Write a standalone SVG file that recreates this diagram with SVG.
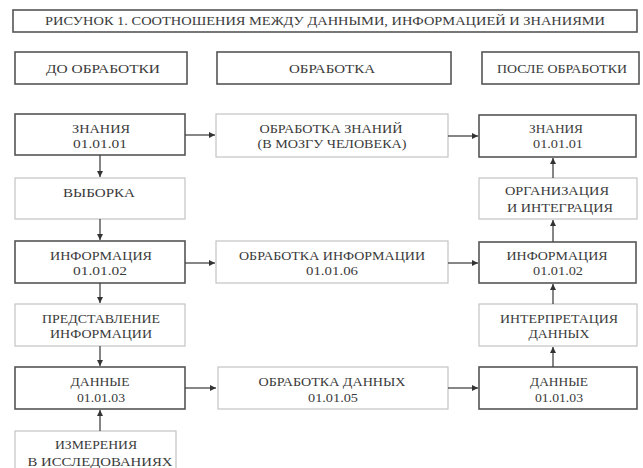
<svg xmlns="http://www.w3.org/2000/svg" width="643" height="468" viewBox="0 0 643 468" font-family="'Liberation Serif', Tinos, 'Times New Roman', 'DejaVu Serif', serif">
<style>
text{font-family:"Liberation Serif",Tinos,"Times New Roman","DejaVu Serif",serif;font-size:13px;fill:#3a3a3a;text-anchor:middle}
.main{fill:#fff;stroke:#555;stroke-width:1.6}
.sub{fill:#fff;stroke:#c4c4c4;stroke-width:1.2}
.conn line{stroke:#444;stroke-width:1.3;marker-end:url(#ah)}
</style>
<defs>
<marker id="ah" viewBox="0 0 10 10" refX="10" refY="5" markerWidth="6" markerHeight="6" markerUnits="userSpaceOnUse" orient="auto">
<path d="M0,0 L10,5 L0,10 Z" fill="#333"/>
</marker>
</defs>
<rect width="643" height="468" fill="#fff"/>
<g id="title"><rect class="main" x="13" y="10" width="624" height="22"/><text x="325" y="25" textLength="560" lengthAdjust="spacingAndGlyphs">РИСУНОК 1. СООТНОШЕНИЯ МЕЖДУ ДАННЫМИ, ИНФОРМАЦИЕЙ И ЗНАНИЯМИ</text></g>
<g id="h-before"><rect class="main" x="15" y="52" width="172" height="32"/><text x="103" y="73" textLength="114" lengthAdjust="spacingAndGlyphs">ДО ОБРАБОТКИ</text></g>
<g id="h-proc"><rect class="main" x="217" y="52" width="234" height="32"/><text x="332" y="73" textLength="86" lengthAdjust="spacingAndGlyphs">ОБРАБОТКА</text></g>
<g id="h-after"><rect class="main" x="482" y="52" width="157" height="32"/><text x="562" y="73" textLength="130" lengthAdjust="spacingAndGlyphs">ПОСЛЕ ОБРАБОТКИ</text></g>

<g id="k-left"><rect class="main" x="15" y="114" width="170" height="41"/><text x="101" y="133" textLength="58" lengthAdjust="spacingAndGlyphs">ЗНАНИЯ</text><text x="100" y="148" textLength="54" lengthAdjust="spacingAndGlyphs">01.01.01</text></g>
<g id="k-proc"><rect class="sub" x="216" y="114" width="232" height="43"/><text x="331" y="133" textLength="143" lengthAdjust="spacingAndGlyphs">ОБРАБОТКА ЗНАНИЙ</text><text x="332" y="148" textLength="149" lengthAdjust="spacingAndGlyphs">(В МОЗГУ ЧЕЛОВЕКА)</text></g>
<g id="k-right"><rect class="main" x="479" y="115" width="157" height="42"/><text x="556" y="133" textLength="54" lengthAdjust="spacingAndGlyphs">ЗНАНИЯ</text><text x="558" y="148" textLength="50" lengthAdjust="spacingAndGlyphs">01.01.01</text></g>

<g id="sample"><rect class="sub" x="15" y="178" width="170" height="41"/><text x="99" y="197" textLength="72" lengthAdjust="spacingAndGlyphs">ВЫБОРКА</text></g>
<g id="org"><rect class="sub" x="479" y="178" width="158" height="41"/><text x="557" y="195" textLength="104" lengthAdjust="spacingAndGlyphs">ОРГАНИЗАЦИЯ</text><text x="560" y="212" textLength="106" lengthAdjust="spacingAndGlyphs">И ИНТЕГРАЦИЯ</text></g>

<g id="i-left"><rect class="main" x="15" y="241" width="170" height="42"/><text x="101" y="260" textLength="102" lengthAdjust="spacingAndGlyphs">ИНФОРМАЦИЯ</text><text x="100" y="275" textLength="54" lengthAdjust="spacingAndGlyphs">01.01.02</text></g>
<g id="i-proc"><rect class="sub" x="216" y="241" width="232" height="42"/><text x="332" y="260" textLength="186" lengthAdjust="spacingAndGlyphs">ОБРАБОТКА ИНФОРМАЦИИ</text><text x="332" y="275" textLength="52" lengthAdjust="spacingAndGlyphs">01.01.06</text></g>
<g id="i-right"><rect class="main" x="479" y="242" width="157" height="41"/><text x="557" y="260" textLength="101" lengthAdjust="spacingAndGlyphs">ИНФОРМАЦИЯ</text><text x="558" y="275" textLength="50" lengthAdjust="spacingAndGlyphs">01.01.02</text></g>

<g id="repr"><rect class="sub" x="15" y="304" width="170" height="42"/><text x="101" y="323" textLength="118" lengthAdjust="spacingAndGlyphs">ПРЕДСТАВЛЕНИЕ</text><text x="101" y="338" textLength="102" lengthAdjust="spacingAndGlyphs">ИНФОРМАЦИИ</text></g>
<g id="interp"><rect class="sub" x="479" y="304" width="158" height="42"/><text x="559" y="323" textLength="118" lengthAdjust="spacingAndGlyphs">ИНТЕРПРЕТАЦИЯ</text><text x="559" y="338" textLength="61" lengthAdjust="spacingAndGlyphs">ДАННЫХ</text></g>

<g id="d-left"><rect class="main" x="15" y="367" width="170" height="42"/><text x="100" y="386" textLength="59" lengthAdjust="spacingAndGlyphs">ДАННЫЕ</text><text x="101" y="402" textLength="48" lengthAdjust="spacingAndGlyphs">01.01.03</text></g>
<g id="d-proc"><rect class="sub" x="218" y="367" width="230" height="42"/><text x="332" y="386" textLength="147" lengthAdjust="spacingAndGlyphs">ОБРАБОТКА ДАННЫХ</text><text x="333" y="402" textLength="50" lengthAdjust="spacingAndGlyphs">01.01.05</text></g>
<g id="d-right"><rect class="main" x="479" y="367" width="158" height="42"/><text x="559" y="386" textLength="58" lengthAdjust="spacingAndGlyphs">ДАННЫЕ</text><text x="559" y="402" textLength="48" lengthAdjust="spacingAndGlyphs">01.01.03</text></g>

<g id="meas"><rect class="sub" x="15" y="431" width="161" height="50"/><text x="96" y="449" textLength="82" lengthAdjust="spacingAndGlyphs">ИЗМЕРЕНИЯ</text><text x="100" y="466" textLength="145" lengthAdjust="spacingAndGlyphs">В ИССЛЕДОВАНИЯХ</text></g>

<g id="connectors" class="conn">
<line x1="185" y1="135" x2="215" y2="135"/>
<line x1="448" y1="136" x2="478" y2="136"/>
<line x1="185" y1="263" x2="215" y2="263"/>
<line x1="448" y1="263" x2="478" y2="263"/>
<line x1="185" y1="388" x2="216" y2="388"/>
<line x1="448" y1="388" x2="478" y2="388"/>
<line x1="100" y1="155" x2="100" y2="177"/>
<line x1="100" y1="219" x2="100" y2="240"/>
<line x1="100" y1="283" x2="100" y2="303"/>
<line x1="100" y1="346" x2="100" y2="366"/>
<line x1="100" y1="431" x2="100" y2="410"/>
<line x1="553" y1="367" x2="553" y2="347"/>
<line x1="553" y1="304" x2="553" y2="284"/>
<line x1="553" y1="242" x2="553" y2="220"/>
<line x1="553" y1="178" x2="553" y2="158"/>
</g>
</svg>
